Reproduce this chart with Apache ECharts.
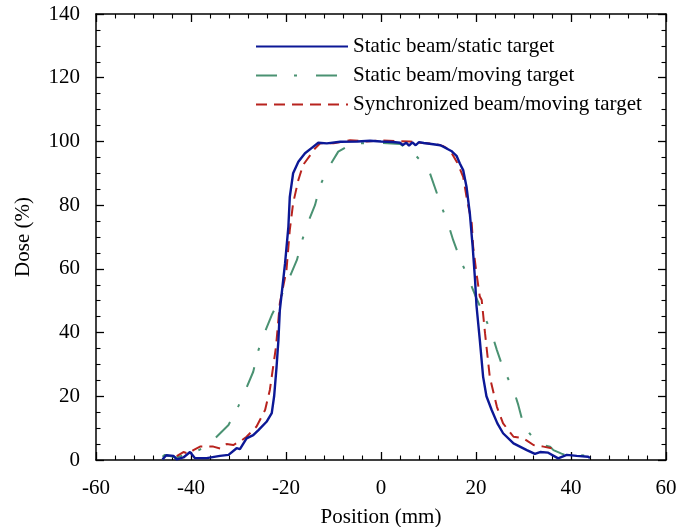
<!DOCTYPE html>
<html><head><meta charset="utf-8">
<script src="https://cdn.jsdelivr.net/npm/echarts@6/dist/echarts.min.js"></script>
<style>html,body{margin:0;padding:0;background:#fff}#c{width:693px;height:527px}</style>
</head><body><div id="c"></div>
<script>
const seriesNames = ['Static beam/static target','Static beam/moving target','Synchronized beam/moving target'];
const xTicks = [-60,-40,-20,0,20,40,60];
const yTicks = [0,20,40,60,80,100,120,140];

const posStatic = [-46.0,-45.2,-43.7,-43.0,-41.6,-40.2,-39.2,-36.7,-33.9,-32.1,-30.4,-29.7,-28.3,-26.9,-25.8,-24.1,-23.0,-22.5,-22.0,-21.6,-21.3,-20.2,-19.5,-19.2,-18.5,-17.4,-16.0,-14.3,-13.2,-11.4,-8.6,-5.0,-2.3,0,2.5,4.0,4.6,5.3,5.9,6.6,7.3,8.0,9.0,11.0,12.5,13.8,14.8,15.9,16.6,17.3,18.0,18.7,19.3,19.8,20.1,20.8,21.5,22.2,23.3,24.5,25.7,27.9,30.7,32.4,33.5,35.2,37.3,39.1,41.2,43.6,44.0];
const doseStatic = [0.2,1.5,1.3,0.2,0.8,2.5,0.6,0.6,1.3,1.6,3.7,3.4,6.8,7.8,9.4,12.0,14.7,20.0,29.0,37.5,47.0,61.7,73.2,82.6,90.0,93.6,96.3,98.3,99.6,99.4,99.9,100.0,100.2,100.0,99.8,99.6,98.9,99.6,98.7,99.7,98.8,99.8,99.5,99.1,98.8,97.8,97.0,95.5,93.1,91.0,85.8,77.4,67.0,56.5,48.5,37.7,26.1,20.0,15.7,11.5,8.4,5.2,3.1,1.9,2.5,2.3,0.5,1.6,1.3,1.0,0.6];

const posMoving = [-46.0,-45.5,-43.0,-41.0,-38.5,-36.5,-34.6,-32.1,-30.0,-28.5,-26.9,-25.8,-24.5,-23.0,-21.0,-19.2,-17.7,-16.7,-15.3,-13.9,-12.8,-10.7,-9.0,-7.0,-5.1,0,4.0,6.5,8.0,9.6,10.3,12.4,14.2,15.2,16.6,18.4,19.8,21.5,23.3,24.4,25.7,27.9,28.9,30.0,31.2,32.4,33.8,35.6,36.3,38.0,39.0,41.0,44.0];
const doseMoving = [1.0,1.6,0.8,1.8,3.0,4.5,7.3,11.0,17.0,22.0,27.7,34.5,40.0,45.5,51.5,57.5,62.8,68.5,74.8,80.0,86.3,92.6,96.8,98.5,99.4,99.5,99.2,96.8,94.5,92.0,90.0,81.0,73.8,69.0,63.3,57.0,51.8,46.0,39.8,34.5,28.8,22.0,17.3,11.0,8.5,6.3,4.7,4.2,3.1,2.0,1.5,1.6,1.3];

const posSync = [-43.0,-41.6,-40.5,-39.5,-38.1,-35.3,-33.8,-32.5,-31.1,-29.5,-28.3,-26.2,-24.4,-23.4,-22.7,-22.1,-21.6,-21.3,-19.9,-19.2,-18.5,-17.4,-16.4,-14.6,-13.9,-12.8,-10.0,-6.5,-3.0,0,3.0,6.0,8.0,11.0,13.0,14.5,16.0,17.3,18.0,19.1,19.4,20.1,20.8,21.2,21.9,22.9,24.4,25.7,27.9,30.0,32.1,34.2,35.9];
const doseSync = [1.2,2.5,2.0,3.1,4.2,4.2,3.6,5.0,4.7,6.0,7.3,10.5,15.7,22.0,29.3,35.6,44.0,49.2,59.6,72.2,80.6,87.9,92.6,96.3,97.8,99.4,99.4,100.4,100.0,100.3,100.1,100.0,99.6,99.3,98.6,97.3,93.5,88.9,82.6,74.3,67.0,58.6,51.3,50.2,39.8,26.1,16.7,11.5,7.3,6.8,4.7,4.2,3.7];

const zip = (xs, ys) => xs.map((x, i) => [x, ys[i]]);
const FONT = 'Liberation Serif';

const chart = echarts.init(document.getElementById('c'), null, {renderer: 'canvas'});
const axisLine = {show: true, onZero: false, lineStyle: {color: '#000', width: 1.5}};
const tickIn = {show: true, inside: true, length: 8, lineStyle: {color: '#000', width: 1.3}};
const minorIn = {show: true, length: 4.5, lineStyle: {color: '#000', width: 1.1}};

chart.setOption({
  animation: false,
  backgroundColor: '#fff',
  grid: {left: 96, right: 27, top: 14, bottom: 67, containLabel: false, outerBoundsMode: 'none'},
  legend: {
    orient: 'vertical', left: 255, top: 36, padding: 0,
    itemWidth: 92, itemHeight: 20, itemGap: 8,
    itemStyle: {opacity: 0},
    textStyle: {fontFamily: FONT, fontSize: 21, color: '#000'},
    data: seriesNames
  },
  xAxis: [{
    type: 'value', min: -60, max: 60, interval: 20, position: 'bottom',
    name: 'Position (mm)', nameLocation: 'middle', nameGap: 47,
    nameTextStyle: {fontFamily: FONT, fontSize: 21, color: '#000'},
    axisLine: axisLine, axisTick: tickIn,
    minorTick: Object.assign({splitNumber: 5}, minorIn),
    splitLine: {show: false},
    axisLabel: {fontFamily: FONT, fontSize: 21, color: '#000', margin: 18,
      formatter: v => xTicks.includes(v) ? String(v) : ''}
  }, {
    type: 'value', min: -60, max: 60, interval: 20, position: 'top',
    axisLine: axisLine, axisTick: tickIn,
    minorTick: Object.assign({splitNumber: 5}, minorIn),
    splitLine: {show: false}, axisLabel: {show: false}
  }],
  yAxis: [{
    type: 'value', min: 0, max: 140, interval: 20, position: 'left',
    name: 'Dose (%)', nameLocation: 'middle', nameGap: 62,
    nameTextStyle: {fontFamily: FONT, fontSize: 21, color: '#000'},
    axisLine: axisLine, axisTick: tickIn,
    minorTick: Object.assign({splitNumber: 4}, minorIn),
    splitLine: {show: false},
    axisLabel: {fontFamily: FONT, fontSize: 21, color: '#000', margin: 16,
      formatter: v => yTicks.includes(v) ? String(v) : ''}
  }, {
    type: 'value', min: 0, max: 140, interval: 20, position: 'right',
    axisLine: axisLine, axisTick: tickIn,
    minorTick: Object.assign({splitNumber: 4}, minorIn),
    splitLine: {show: false}, axisLabel: {show: false}
  }],
  series: [{
    name: seriesNames[0], type: 'line', symbol: 'none', z: 4,
    data: zip(posStatic, doseStatic),
    itemStyle: {color: '#0c1896'},
    lineStyle: {color: '#0c1896', width: 2.4, type: 'solid'}
  }, {
    name: seriesNames[1], type: 'line', symbol: 'none', z: 2,
    data: zip(posMoving, doseMoving),
    itemStyle: {color: '#4a9272'},
    lineStyle: {color: '#4a9272', width: 2, type: [21, 17, 3, 19]}
  }, {
    name: seriesNames[2], type: 'line', symbol: 'none', z: 3,
    data: zip(posSync, doseSync),
    itemStyle: {color: '#b8231e'},
    lineStyle: {color: '#b8231e', width: 2, type: [11, 7]}
  }]
});
</script></body></html>
